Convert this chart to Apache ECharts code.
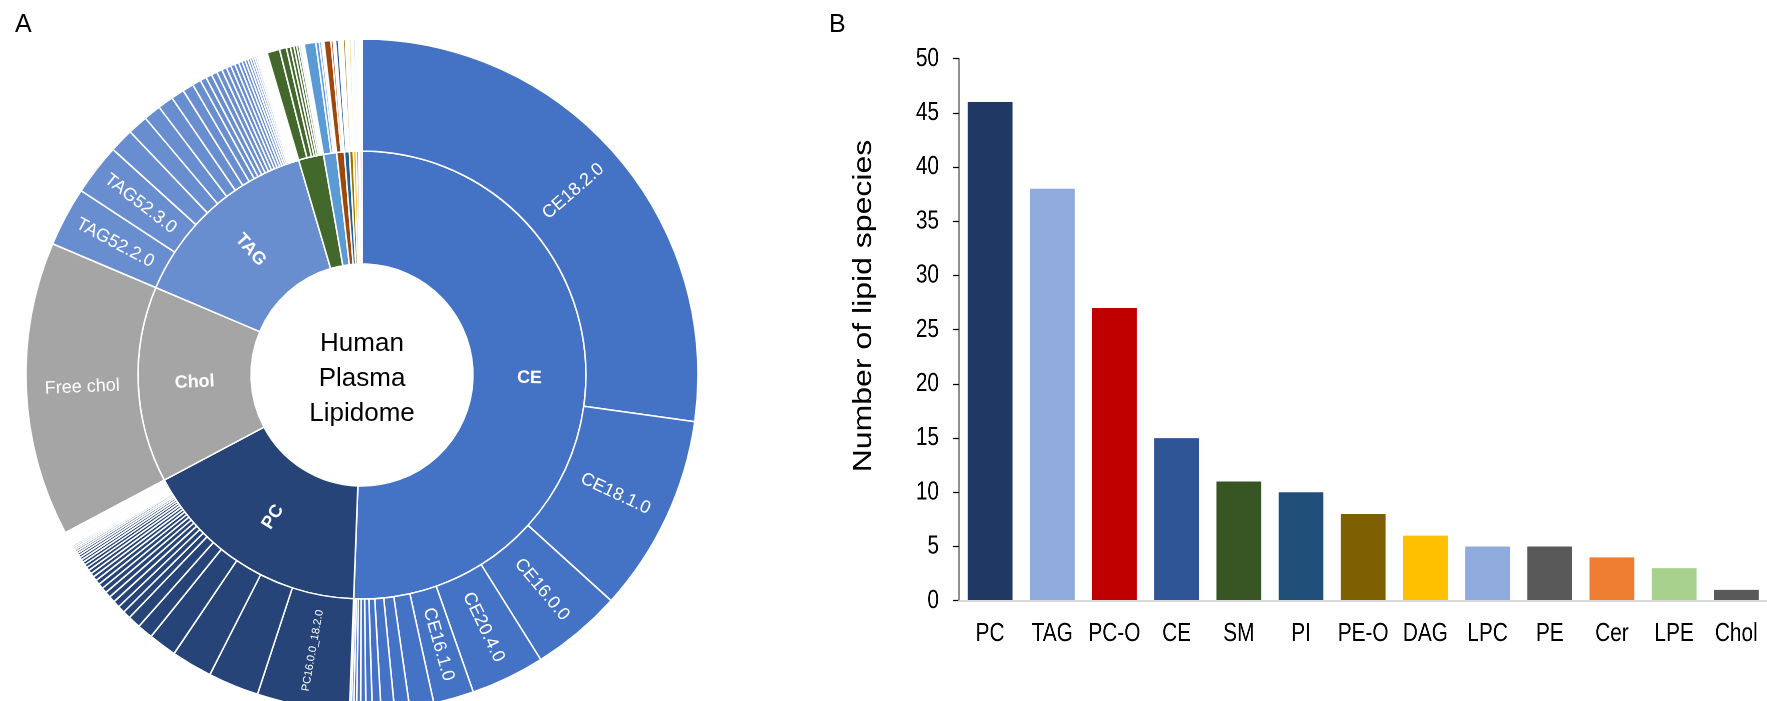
<!DOCTYPE html>
<html><head><meta charset="utf-8">
<script src="https://cdn.jsdelivr.net/npm/echarts@6/dist/echarts.min.js"></script>
<style>
html,body{margin:0;padding:0;background:#fff}
#wrap{position:relative;width:1767px;height:701px;overflow:hidden;background:#fff}
#a{position:absolute;left:0;top:0;width:1767px;height:701px}
#b{position:absolute;left:829px;top:0;width:1172.5px;height:701px;transform:scaleX(0.8);transform-origin:0 0}
</style>
</head><body><div id="wrap"><div id="a"></div><div id="b"></div></div>
<script>
// ================= Panel B : number of lipid species per class =================
const barCategories = ['PC','TAG','PC-O','CE','SM','PI','PE-O','DAG','LPC','PE','Cer','LPE','Chol'];
const barCounts     = [46, 38, 27, 15, 11, 10, 8, 6, 5, 5, 4, 3, 1];
const yAxisMin = 0, yAxisMax = 50, yAxisStep = 5;

// ================= Panel A : plasma lipidome sunburst (relative abundance, arbitrary units) =================
const classOrder = ['CE','PC','Chol','TAG','SM','LPC','Cer','PI','PE-O','DAG','PE','LPE','PC-O'];
const labelledClasses = ['CE','PC','Chol','TAG'];

const ceValues   = [98.1, 34.2, 15.7, 12.8, 7.0, 4.2, 2.6, 2.3, 1.5, 1.1, 0.9, 0.7, 0.5, 0.4, 0.3];
const ceNames    = ['CE18.2.0','CE18.1.0','CE16.0.0','CE20.4.0','CE16.1.0'];
const pcValues   = [16.0, 8.8, 7.1, 4.9, 2.7, 2.2,
  1.35,1.25,1.17,1.09,1.01,0.94,0.88,0.82,0.76,0.71,0.66,0.61,0.57,0.53,0.49,0.46,0.43,0.40,0.37,0.34,
  0.32,0.30,0.28,0.26,0.24,0.22,0.20,0.19,0.18,0.16,0.15,0.14,0.13,0.12,0.11,0.10,0.09,0.08,0.07,0.06];
const pcNames    = ['PC16.0.0_18.2.0'];
const cholValues = [51.0];
const cholNames  = ['Free chol'];
const tagValues  = [10.3, 8.9, 4.2, 3.5, 3.0, 2.7, 2.3, 1.9,
  1.5,1.1,1.05,1.0,0.95,0.85,0.8,0.75,0.7,0.62,0.55,0.5,0.45,0.4,0.36,0.32,0.28,0.25,0.22,0.19,0.17,0.15,
  0.13,0.11,0.1,0.09,0.08,0.07,0.06,0.05];
const tagNames   = ['TAG52.2.0','TAG52.3.0'];
const smValues   = [2.2, 1.2, 0.7, 0.6, 0.5, 0.4, 0.3, 0.25, 0.2, 0.1, 0.05];
const lpcValues  = [2.0, 0.6, 0.4, 0.25, 0.15];
const cerValues  = [1.2, 0.4, 0.25, 0.15];
const piValues   = [0.5, 0.25, 0.15, 0.1, 0.08, 0.07, 0.05, 0.04, 0.03, 0.03];
const peoValues  = [0.4, 0.2, 0.12, 0.09, 0.07, 0.05, 0.04, 0.03];
const dagValues  = [0.35, 0.2, 0.1, 0.07, 0.05, 0.03];
const peValues   = [0.3, 0.12, 0.08, 0.06, 0.04];
const lpeValues  = [0.15, 0.1, 0.05];
const pcoValues  = [0.05,0.045,0.04,0.035,0.032,0.03,0.028,0.026,0.024,0.022,0.02,0.018,0.017,0.016,
  0.015,0.014,0.013,0.012,0.011,0.01,0.009,0.008,0.007,0.006,0.005,0.004,0.003];

// ---------------- styles ----------------
const sunColors = {CE:'#4472C4', PC:'#264478', Chol:'#A5A5A5', TAG:'#698ED0', SM:'#43682B', LPC:'#5B9BD5',
  Cer:'#9E480E', PI:'#255E91', 'PE-O':'#997300', DAG:'#FFC000', PE:'#7F7F7F', LPE:'#70AD47', 'PC-O':'#F4B183'};
const barColors = ['#203864','#8FAADC','#C00000','#2F5597','#375623','#1F4E79','#7F6000','#FFC000',
  '#8FAADC','#595959','#ED7D31','#A9D18E','#595959'];

const classValues = {CE:ceValues, PC:pcValues, Chol:cholValues, TAG:tagValues, SM:smValues, LPC:lpcValues,
  Cer:cerValues, PI:piValues, 'PE-O':peoValues, DAG:dagValues, PE:peValues, LPE:lpeValues, 'PC-O':pcoValues};
const classLabelNames = {CE:ceNames, PC:pcNames, Chol:cholNames, TAG:tagNames};

const sunData = classOrder.map(function (cls) {
  const vals = classValues[cls];
  const names = classLabelNames[cls] || [];
  const col = sunColors[cls];
  return {
    name: cls,
    itemStyle: {color: col},
    label: {show: labelledClasses.indexOf(cls) >= 0},
    children: vals.map(function (v, i) {
      const named = i < names.length;
      const item = {name: named ? names[i] : (cls + ' species ' + (i + 1)), value: v, itemStyle: {color: col},
        label: {show: named}};
      if (named && names[i].length > 12) item.label.fontSize = 11;
      return item;
    })
  };
});

const FONT = "'Liberation Sans', Arial, sans-serif";

// ---------- chart A (sunburst + panel letters) ----------
const chartA = echarts.init(document.getElementById('a'), null, {renderer: 'canvas'});
chartA.setOption({
  animation: false,
  backgroundColor: '#fff',
  textStyle: {fontFamily: FONT},
  graphic: [
    {type: 'text', left: 15, top: 13, style: {text: 'A', fontSize: 25, fontFamily: FONT, fill: '#000'}},
    {type: 'text', left: 829, top: 13, style: {text: 'B', fontSize: 25, fontFamily: FONT, fill: '#000'}},
    {type: 'text', x: 362, y: 379, style: {text: 'Human\nPlasma\nLipidome', fontSize: 26, lineHeight: 35,
      fontFamily: FONT, fill: '#000', align: 'center', verticalAlign: 'middle'}}
  ],
  series: [
    {
      type: 'sunburst', data: sunData, sort: null, center: [362, 375], radius: [111, 336],
      startAngle: 90, clockwise: true, nodeClick: false, silent: true,
      emphasis: {disabled: true},
      itemStyle: {borderColor: '#fff', borderWidth: 1.5},
      levels: [
        {},
        {r0: 111, r: 224, label: {rotate: 'radial', color: '#fff', fontWeight: 'bold', fontSize: 18, fontFamily: FONT}},
        {r0: 224, r: 336, label: {rotate: 'radial', color: '#fff', fontSize: 18, fontFamily: FONT}}
      ]
    }
  ]
});

// ---------- chart B (bar chart, drawn wide then compressed horizontally like the original figure) ----------
const chartB = echarts.init(document.getElementById('b'), null, {renderer: 'canvas', devicePixelRatio: 2});
chartB.setOption({
  animation: false,
  backgroundColor: 'transparent',
  textStyle: {fontFamily: FONT},
  graphic: [
    {type: 'text', x: 43.75, y: 306, rotation: Math.PI / 2,
      style: {text: 'Number of lipid species', fontSize: 32, fontFamily: FONT, fill: '#000',
        align: 'center', verticalAlign: 'middle'}}
  ],
  grid: {left: 162.5, top: 58.6, width: 1012.5, bottom: 100.3, containLabel: false},
  xAxis: {
    type: 'category', data: barCategories, z: 5,
    axisLine: {show: true, lineStyle: {color: '#D9D9D9', width: 2}},
    axisTick: {show: false},
    axisLabel: {color: '#000', fontSize: 26, fontFamily: FONT, margin: 20, interval: 0}
  },
  yAxis: {
    type: 'value', min: yAxisMin, max: yAxisMax, interval: yAxisStep,
    axisLine: {show: true, lineStyle: {color: '#000', width: 1.25}},
    axisTick: {show: true, length: 7.5, lineStyle: {color: '#000', width: 1.25}},
    axisLabel: {color: '#000', fontSize: 26, fontFamily: FONT, margin: 25},
    splitLine: {show: false}
  },
  series: [
    {
      type: 'bar', data: barCounts, barWidth: 56,
      itemStyle: {color: function (p) { return barColors[p.dataIndex]; }},
      silent: true
    }
  ]
});
</script>
</body></html>
